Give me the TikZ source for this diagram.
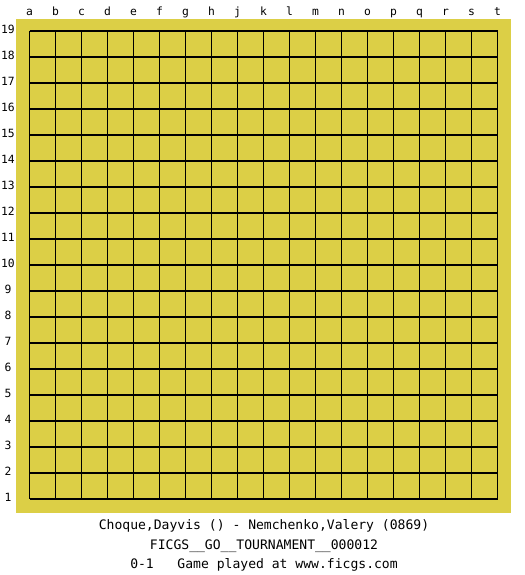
\documentclass[tikz,border=0pt]{standalone}
\usepackage{fontspec}
\setmonofont{DejaVu Sans Mono}
\definecolor{boardyellow}{RGB}{220,207,70}
\begin{document}
\begin{tikzpicture}[x=0.75pt,y=-0.75pt,
  lbl/.style={font=\ttfamily\fontsize{8.5}{10}\selectfont,inner sep=0pt,anchor=base},
  caption/.style={font=\ttfamily\fontsize{9.8}{11}\selectfont,inner sep=0pt,anchor=base},
  gridline/.style={draw=black,line width=0.8pt}]
\useasboundingbox[fill=white] (0,0) rectangle (525,575);
\fill[boardyellow] (16,19) rectangle (511,513);
\foreach \i in {0,...,18} {
  \draw[gridline] (29.5+26*\i,31) -- (29.5+26*\i,499);
  \draw[gridline] (29.5,31+26*\i) -- (497.5,31+26*\i);
}
\foreach \l [count=\i from 0] in {a,b,c,d,e,f,g,h,j,k,l,m,n,o,p,q,r,s,t} {
  \node[lbl] (col\l) at (29.5+26*\i,15) {\l};
}
\foreach \r in {1,...,19} {
  \node[lbl] (row\r) at (8,31+26*19-26*\r+2) {\r};
}
\node[caption] (players) at (264,529) {Choque,Dayvis () - Nemchenko,Valery (0869)};
\node[caption] (event) at (264,549) {FICGS\_\_GO\_\_TOURNAMENT\_\_000012};
\node[caption] (result) at (264,568) {0-1\ \ \ Game played at www.ficgs.com};
\end{tikzpicture}
\end{document}
